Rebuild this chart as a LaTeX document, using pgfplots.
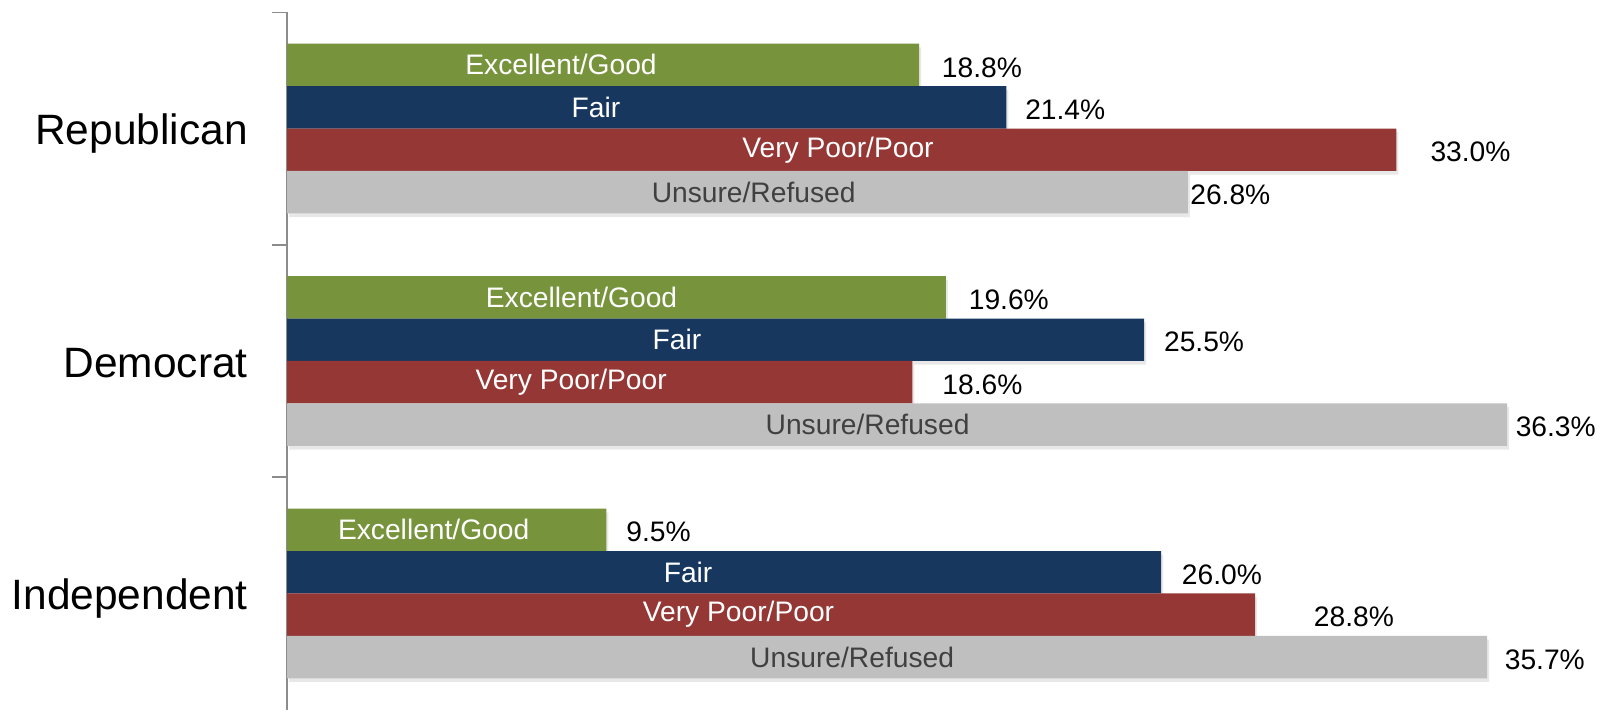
\documentclass[border=0pt]{standalone}
\usepackage{fontspec}
\setmainfont{Liberation Sans}
\usepackage{pgfplots}
\usepackage{pgfplotstable}
\pgfplotsset{compat=1.18}
\usetikzlibrary{calc,shadows}

\definecolor{cgood}{HTML}{77933C}
\definecolor{cfair}{HTML}{17375E}
\definecolor{cpoor}{HTML}{953735}
\definecolor{cunsure}{HTML}{BFBFBF}
\definecolor{axisgray}{HTML}{8C8C8C}

% y = bar position (top to bottom), v = value, lx = where the name sits, off = gap to the value label (pt)
\pgfplotstableread{
y     v    lx    off
0     18.8 8.15  11
5.48  19.6 8.76  11
10.96 9.5  4.36  9.5
}\good
\pgfplotstableread{
y     v    lx    off
1     21.4 9.19  9
6.48  25.5 11.60 9.5
11.96 26.0 11.93 10
}\fair
\pgfplotstableread{
y     v    lx    off
2     33.0 16.39 16.5
7.48  18.6 8.45  14.5
12.96 28.8 13.43 28.5
}\poor
\pgfplotstableread{
y     v    lx    off
3     26.8 13.88 1
8.48  36.3 17.27 4
13.96 35.7 16.81 8.5
}\unsure

\pgfplotsset{
  barstyle/.style={xbar, bar shift=0pt, bar width=1, draw=none, fill=#1,
    drop shadow={shadow xshift=1pt, shadow yshift=-1.8pt, opacity=0.18},
    point meta=x,
    visualization depends on={\thisrow{off}\as\off},
    nodes near coords={\pgfmathprintnumber[fixed,fixed zerofill,precision=1]{\pgfplotspointmeta}\%},
    nodes near coords style={anchor=west, inner sep=0pt, xshift=\off pt, yshift=-1.2pt,
      text=black, font=\fontsize{13.75}{16}\selectfont}},
  namestyle/.style 2 args={draw=none, mark=none,
    nodes near coords={#1},
    nodes near coords style={anchor=center, inner sep=0pt, text=#2,
      font=\fontsize{13.75}{16}\selectfont}},
}

\begin{document}
\begin{tikzpicture}
\begin{axis}[
  scale only axis, width=644pt, height=340pt,
  xmin=0, xmax=39.3, ymin=-1.24, ymax=15.2, y dir=reverse,
  axis x line=none, axis y line*=left,
  y axis line style={draw=axisgray, line width=0.75pt},
  ytick={1.5,6.98,12.46}, yticklabels={Republican,Democrat,Independent},
  minor ytick={-1.24,4.24,9.72},
  major tick length=0pt, minor tick length=7.5pt, tick align=outside,
  tick style={draw=axisgray, line width=0.75pt},
  yticklabel style={font=\fontsize{20.7}{24}\selectfont, inner sep=0pt,
    anchor=base east, xshift=-19pt, yshift=-8pt},
  /pgf/number format/assume math mode=true,
  clip=false,
]
\addplot[barstyle=cgood] table[x=v,y=y]{\good};
\addplot[barstyle=cfair] table[x=v,y=y]{\fair};
\addplot[barstyle=cpoor] table[x=v,y=y]{\poor};
\addplot[barstyle=cunsure] table[x=v,y=y]{\unsure};
\addplot[namestyle={Excellent/Good}{white}] table[x=lx,y=y]{\good};
\addplot[namestyle={Fair}{white}] table[x=lx,y=y]{\fair};
\addplot[namestyle={Very Poor/Poor}{white}] table[x=lx,y=y]{\poor};
\addplot[namestyle={Unsure/Refused}{black!75}] table[x=lx,y=y]{\unsure};
\end{axis}
\pgfresetboundingbox
\path ($(current axis.south west)+(-140pt,-1pt)$) rectangle ($(current axis.north east)+(0pt,6pt)$);
\end{tikzpicture}
\end{document}
